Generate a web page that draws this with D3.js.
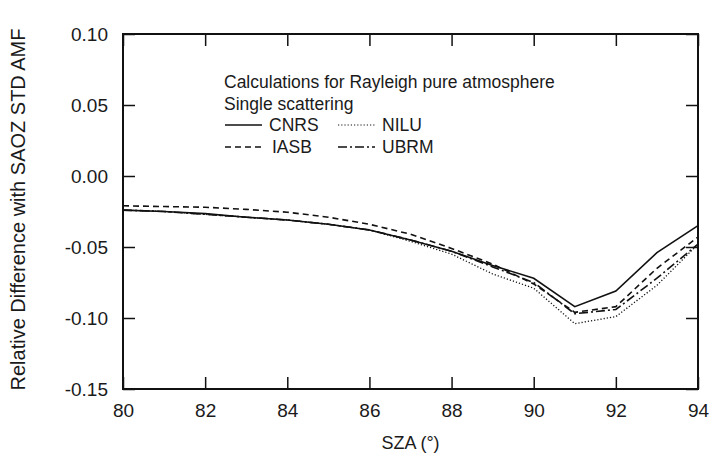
<!DOCTYPE html>
<html><head><meta charset="utf-8">
<script src="https://cdn.jsdelivr.net/npm/d3@7"></script>
<style>
body{margin:0;background:#fff;}
text{font-family:"Liberation Sans",Arial,sans-serif;fill:#1a1a1a;}
</style></head><body>
<svg id="c" width="712" height="462"></svg>
<script>
const sza = [80,81,82,83,84,85,86,87,88,89,90,91,92,93,94];
const cnrs = [-0.024,-0.025,-0.0265,-0.029,-0.031,-0.034,-0.038,-0.045,-0.053,-0.063,-0.072,-0.092,-0.081,-0.054,-0.035];
const nilu = [-0.024,-0.025,-0.027,-0.029,-0.031,-0.034,-0.038,-0.046,-0.055,-0.069,-0.079,-0.104,-0.099,-0.077,-0.048];
const iasb = [-0.021,-0.0215,-0.022,-0.0235,-0.0255,-0.029,-0.034,-0.041,-0.051,-0.062,-0.076,-0.096,-0.092,-0.065,-0.043];
const ubrm = [-0.024,-0.025,-0.027,-0.029,-0.031,-0.034,-0.038,-0.045,-0.053,-0.064,-0.075,-0.097,-0.094,-0.072,-0.048];
const xTicks = [80,82,84,86,88,90,92,94];
const yTicks = [0.10,0.05,0.00,-0.05,-0.10,-0.15];
const seriesNames = ["CNRS","NILU","IASB","UBRM"];
const titleLines = ["Calculations for Rayleigh pure atmosphere","Single scattering"];

const svg = d3.select("#c");
const L=123, R=698, T=34, B=389;
const x = d3.scaleLinear().domain([80,94]).range([L,R]);
const y = d3.scaleLinear().domain([-0.15,0.10]).range([B,T]);

const fmt = d => d3.format(".2f")(d).replace("\u2212","-");
const tk = 12;
const ax = svg.append("g");
ax.append("g").attr("transform",`translate(${L},0)`)
  .call(d3.axisLeft(y).tickValues(yTicks).tickSize(-tk).tickPadding(15).tickFormat(fmt));
ax.append("g").attr("transform",`translate(${R},0)`)
  .call(d3.axisRight(y).tickValues(yTicks).tickSize(-tk).tickFormat(""));
ax.append("g").attr("transform",`translate(0,${B})`)
  .call(d3.axisBottom(x).tickValues(xTicks).tickSize(-tk).tickPadding(15).tickFormat(d3.format("d")));
ax.append("g").attr("transform",`translate(0,${T})`)
  .call(d3.axisTop(x).tickValues(xTicks).tickSize(-tk).tickFormat(""));
ax.selectAll(".domain").remove();
ax.selectAll(".tick line").attr("stroke","#111").attr("stroke-width",1.5);
ax.selectAll(".tick text").style("font-size","19px").attr("fill","#1a1a1a");
svg.append("rect").attr("x",L).attr("y",T).attr("width",R-L).attr("height",B-T)
  .attr("fill","none").attr("stroke","#111").attr("stroke-width",2);

const styles = {CNRS:null, NILU:"1.2,2", IASB:"6,4", UBRM:"9,3,2,3"};
const data = {CNRS:cnrs, NILU:nilu, IASB:iasb, UBRM:ubrm};
const line = d3.line().x((d,i)=>x(sza[i])).y(d=>y(d));
seriesNames.forEach(n=>{
  svg.append("path").datum(data[n]).attr("d",line).attr("fill","none")
    .attr("stroke","#111").attr("stroke-width",n==="NILU"?1.3:1.6)
    .attr("stroke-dasharray",styles[n]);
});

// legend
const lg = svg.append("g");
titleLines.forEach((t,i)=>lg.append("text").attr("x",224).attr("y",88+i*21.5).style("font-size","17.5px").text(t));
const items = [["CNRS",225,131],["NILU",338,131],["IASB",225,153],["UBRM",338,153]];
items.forEach(([n,lx,ly])=>{
  lg.append("line").attr("x1",lx).attr("x2",lx+37).attr("y1",ly-6).attr("y2",ly-6)
    .attr("stroke","#111").attr("stroke-width",n==="NILU"?1.2:1.5).attr("stroke-dasharray",styles[n]);
  lg.append("text").attr("x",lx+(n==="IASB"?47:44)).attr("y",ly).style("font-size","17.5px").text(n);
});

svg.append("text").attr("transform",`translate(25,${(T+B)/2-2}) rotate(-90)`)
  .attr("text-anchor","middle").style("font-size","20px").text("Relative Difference with SAOZ STD AMF");
svg.append("text").attr("x",(L+R)/2).attr("y",449).attr("text-anchor","middle")
  .style("font-size","18px").text("SZA (°)");
</script></body></html>
